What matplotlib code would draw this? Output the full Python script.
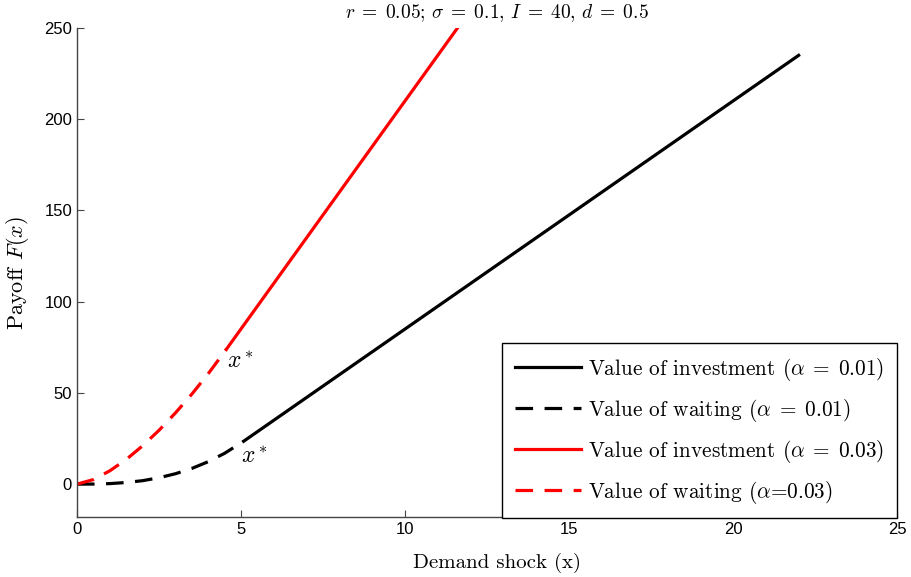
import matplotlib
matplotlib.use('Agg')
import matplotlib.pyplot as plt

plt.rcParams['mathtext.fontset'] = 'cm'
plt.rcParams['font.family'] = ['Liberation Sans', 'DejaVu Sans']

# value of investment (straight lines), alpha = 0.01 and 0.03
x_inv_lo = [5.08, 22.0]
y_inv_lo = [23.5, 235.0]
x_inv_hi = [4.55, 11.6]
y_inv_hi = [73.8, 250.0]

# value of waiting (option curves)
x_wait_lo = [0.0, 0.5, 1.0, 1.5, 2.0, 2.5, 3.0, 3.5, 4.0, 4.5, 5.08]
y_wait_lo = [0.0, 0.05, 0.3, 0.9, 1.9, 3.5, 5.7, 8.6, 12.3, 16.9, 23.5]
x_wait_hi = [0.0, 0.5, 1.0, 1.5, 2.0, 2.5, 3.0, 3.5, 4.0, 4.55]
y_wait_hi = [0.0, 2.5, 7.3, 13.5, 21.0, 29.5, 39.0, 49.3, 60.5, 73.8]

xticks = [0, 5, 10, 15, 20, 25]
yticks = [0, 50, 100, 150, 200, 250]

labels = [r'Value of investment ($\alpha\;=\;0.01$)',
          r'Value of waiting ($\alpha\;=\;0.01$)',
          r'Value of investment ($\alpha\;=\;0.03$)',
          r'Value of waiting ($\alpha$=0.03)']

dash = (0, (5.5, 3.6))

fig = plt.figure(figsize=(9.12, 5.77), dpi=100)
ax = fig.add_axes([0.0844, 0.104, 0.8992, 0.8475])

ax.plot(x_inv_lo, y_inv_lo, color='black', lw=2.3, label=labels[0])
ax.plot(x_wait_lo, y_wait_lo, color='black', lw=2.3, ls=dash, label=labels[1])
ax.plot(x_inv_hi, y_inv_hi, color='red', lw=2.3, label=labels[2])
ax.plot(x_wait_hi, y_wait_hi, color='red', lw=2.3, ls=dash, label=labels[3])

ax.text(4.58, 67, r'$x^*$', fontsize=17, va='center', ha='left')
ax.text(5.0, 15, r'$x^*$', fontsize=17, va='center', ha='left')

ax.set_xlim(0, 25)
ax.set_ylim(-18, 250)
ax.set_xticks(xticks)
ax.set_yticks(yticks)
ax.tick_params(direction='in', length=5, labelsize=12, width=0.8, color='#444444')
for s in ['top', 'right']:
    ax.spines[s].set_visible(False)
for s in ['left', 'bottom']:
    ax.spines[s].set_color('#444444')
    ax.spines[s].set_linewidth(1.0)

ax.set_xlabel('Demand shock (x)', fontfamily='cmr10', fontsize=15)
ax.xaxis.set_label_coords(0.512, -0.073)
ax.set_ylabel(r'Payoff $F(x)$', fontfamily='cmr10', fontsize=16)
ax.yaxis.set_label_coords(-0.056, 0.5)
ax.set_title(r'$r\;=\;0.05;\,\sigma\;=\;0.1,\,I\;=\;40,\,d\;=\;0.5$', fontsize=14, pad=7, x=0.512)

leg = ax.legend(loc='lower right', bbox_to_anchor=(1.0, -0.003), borderaxespad=0.0,
                prop={'family': 'cmr10', 'size': 15.3}, fancybox=False,
                edgecolor='black', framealpha=1, handlelength=3.1, labelspacing=0.66,
                borderpad=0.6, handletextpad=0.35)
leg.get_frame().set_linewidth(1.0)

fig.savefig('out.png', dpi=100)
